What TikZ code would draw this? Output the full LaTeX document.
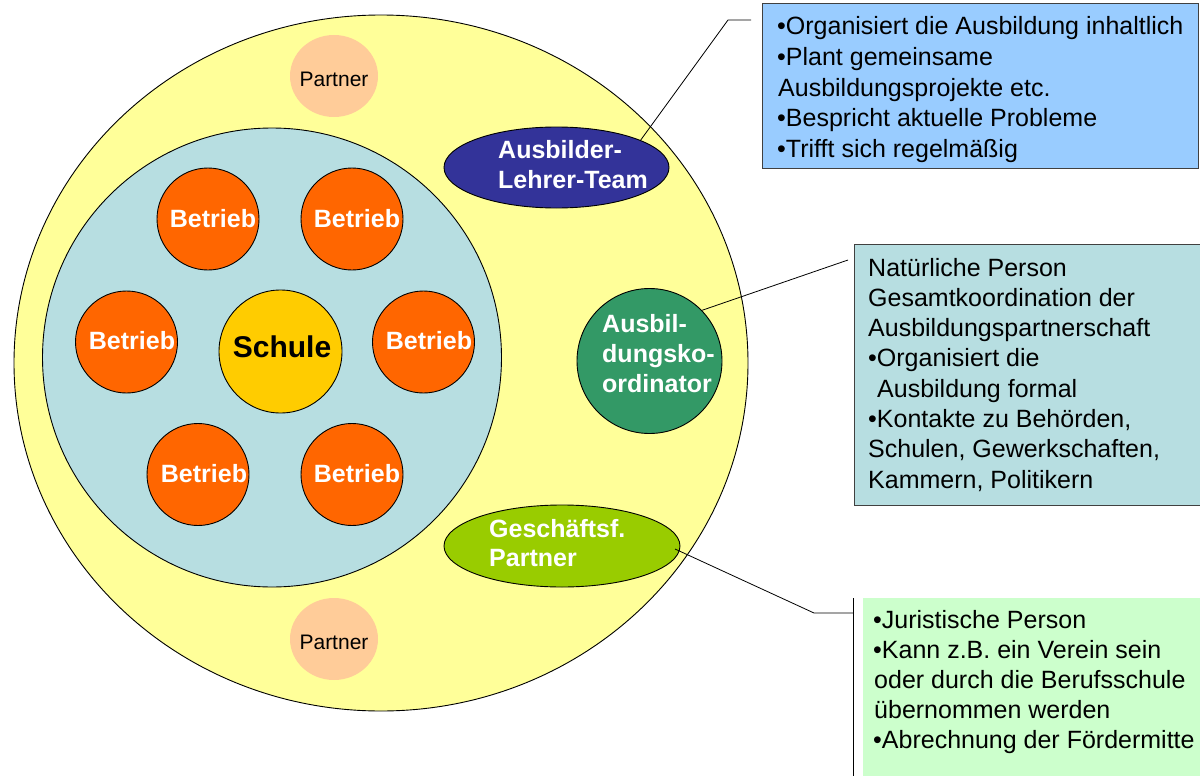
\documentclass[tikz,border=0pt]{standalone}
\usepackage{fontspec}
\setmainfont{Liberation Sans}
\usetikzlibrary{shapes.geometric}
\definecolor{yel}{HTML}{FFFF99}
\definecolor{innerc}{HTML}{B7DEE1}
\definecolor{betr}{HTML}{FF6600}
\definecolor{schul}{HTML}{FFCC00}
\definecolor{partn}{HTML}{FFCC99}
\definecolor{altc}{HTML}{333399}
\definecolor{koc}{HTML}{339966}
\definecolor{gpc}{HTML}{99CC00}
\definecolor{boxblue}{HTML}{99CCFF}
\definecolor{boxgreen}{HTML}{CCFFCC}
\definecolor{boxborder}{HTML}{404040}
\begin{document}
\begin{tikzpicture}[x=1pt,y=-1pt,
  outline/.style={draw=black, line width=0.9pt},
  betrieb/.style={circle, outline, fill=betr, minimum size=102pt, inner sep=0pt},
  btxt/.style={anchor=base, text=white, font=\fontsize{25}{30}\selectfont\bfseries, inner sep=0pt},
  partner/.style={ellipse, fill=partn, minimum width=88pt, minimum height=82pt, inner sep=0pt},
  ptxt/.style={anchor=base, font=\fontsize{21}{25}\selectfont, inner sep=0pt},
  eltxt/.style={anchor=base west, text=white, font=\fontsize{25}{30}\selectfont\bfseries, inner sep=0pt},
  boxtxt/.style={anchor=base west, font=\fontsize{25}{30}\selectfont, inner sep=0pt},
  conn/.style={draw=black, line width=0.8pt},
  infobox/.style={anchor=north west, inner sep=0pt}
]
\useasboundingbox (0,0) rectangle (1200,776);
\clip (0,0) rectangle (1200,776);
\fill[white] (0,0) rectangle (1200,776);

% outer and inner circles
\node[ellipse, outline, fill=yel, minimum width=734pt, minimum height=696pt, inner sep=0pt] (outer) at (381,363) {};
\node[circle, outline, fill=innerc, minimum size=459pt, inner sep=0pt] (inner) at (272,357.5) {};

% partners
\node[partner] (p1) at (334,76) {};
\node[ptxt] (p1t) at (334,86) {Partner};
\node[partner] (p2) at (334,639) {};
\node[ptxt] (p2t) at (334,649) {Partner};

% Schule
\node[circle, outline, fill=schul, minimum size=123pt, inner sep=0pt] (schule) at (280.5,351.5) {};
\node[anchor=base, font=\fontsize{30}{36}\selectfont\bfseries, inner sep=0pt] (schulet) at (282,357) {Schule};

% Betriebe
\node[betrieb] (b1) at (208,219) {};
\node[btxt] (b1t) at (213,227) {Betrieb};
\node[betrieb] (b2) at (352,219) {};
\node[btxt] (b2t) at (357,227) {Betrieb};
\node[betrieb] (b3) at (126.5,342) {};
\node[btxt] (b3t) at (132,349) {Betrieb};
\node[betrieb] (b4) at (423.5,342) {};
\node[btxt] (b4t) at (429,349) {Betrieb};
\node[betrieb] (b5) at (198,474.5) {};
\node[btxt] (b5t) at (204,482) {Betrieb};
\node[betrieb] (b6) at (352,474.5) {};
\node[btxt] (b6t) at (357,482) {Betrieb};

% Ausbilder-Lehrer-Team
\node[ellipse, outline, fill=altc, minimum width=225pt, minimum height=81pt, inner sep=0pt] (alt) at (556.5,167.5) {};
\node[eltxt] (alt1) at (498,158) {Ausbilder-};
\node[eltxt] (alt2) at (498,188) {Lehrer-Team};

% Ausbildungskoordinator
\node[circle, outline, fill=koc, minimum size=145pt, inner sep=0pt] (ko) at (649.5,361) {};
\node[eltxt] (ko1) at (602,332) {Ausbil-};
\node[eltxt] (ko2) at (602,362) {dungsko-};
\node[eltxt] (ko3) at (602,392) {ordinator};

% Geschaeftsf. Partner
\node[ellipse, outline, fill=gpc, minimum width=236pt, minimum height=82pt, inner sep=0pt] (gp) at (562,546) {};
\node[eltxt] (gp1) at (489,537) {Geschäftsf.};
\node[eltxt] (gp2) at (489,566) {Partner};

% info boxes
\node[infobox, draw=boxborder, line width=1.2pt, fill=boxblue, minimum width=436pt, minimum height=165pt] (box1) at (762,3) {};
\node[boxtxt] (t11) at (777,35) {•Organisiert die Ausbildung inhaltlich};
\node[boxtxt] (t12) at (777,65.5) {•Plant gemeinsame};
\node[boxtxt] (t13) at (778,96) {Ausbildungsprojekte etc.};
\node[boxtxt] (t14) at (777,126.5) {•Bespricht aktuelle Probleme};
\node[boxtxt] (t15) at (777,157) {•Trifft sich regelmäßig};

\node[infobox, draw=boxborder, line width=1.2pt, fill=innerc, minimum width=360pt, minimum height=261pt] (box2) at (854,244) {};
\node[boxtxt] (t21) at (868,276) {Natürliche Person};
\node[boxtxt] (t22) at (868,306.3) {Gesamtkoordination der};
\node[boxtxt] (t23) at (868,336.6) {Ausbildungspartnerschaft};
\node[boxtxt] (t24) at (868,366.9) {•Organisiert die};
\node[boxtxt] (t25) at (877,397.2) {Ausbildung formal};
\node[boxtxt] (t26) at (868,427.5) {•Kontakte zu Behörden,};
\node[boxtxt] (t27) at (868,457.8) {Schulen, Gewerkschaften,};
\node[boxtxt] (t28) at (868,488) {Kammern, Politikern};

\node[infobox, fill=boxgreen, minimum width=350pt, minimum height=190pt] (box3) at (863,598) {};
\node[boxtxt] (t31) at (873,628) {•Juristische Person};
\node[boxtxt] (t32) at (873,658) {•Kann z.B. ein Verein sein};
\node[boxtxt] (t33) at (874,688) {oder durch die Berufsschule};
\node[boxtxt] (t34) at (874,718) {übernommen werden};
\node[boxtxt] (t35) at (873,748) {•Abrechnung der Fördermitte};

% connectors
\coordinate (altbend) at (728,20);
\coordinate (altend) at (751,20);
\coordinate (koend) at (848,260);
\coordinate (gpstart) at (675,549);
\coordinate (gpbend) at (814,613);
\coordinate (gpend) at (853,613);
\coordinate (bartop) at (853,598);
\coordinate (barbot) at (853,780);
\draw[conn] (alt.18) -- (altbend) -- (altend);
\draw[conn] (ko.44) -- (koend);
\draw[conn] (gpstart) -- (gpbend) -- (gpend);
\draw[conn] (bartop) -- (barbot);
\end{tikzpicture}
\end{document}
